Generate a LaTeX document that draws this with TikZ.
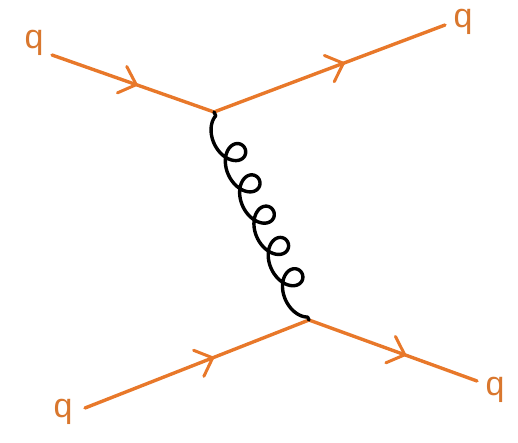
\documentclass[tikz,border=0pt]{standalone}
\usepackage{fontspec}
\setsansfont{Liberation Sans}
\usetikzlibrary{decorations.markings}
\definecolor{quark}{HTML}{E8782A}
\definecolor{qlabel}{HTML}{D9772E}
\tikzset{
  fermion/.style={draw=quark, line width=3.4pt, line cap=round,
    postaction={decorate},
    decoration={markings, mark=at position #1 with {\draw[quark, line width=3pt, line cap=round, line join=round] (-15pt,14pt) -- (0pt,0pt) -- (-15pt,-14pt);}}},
  gluon/.style={draw=black, line width=3.4pt, line cap=round, line join=round},
  qlab/.style={font=\sffamily\fontsize{34}{34}\selectfont, text=qlabel, inner sep=0pt}
}
\begin{document}
\begin{tikzpicture}[x=1pt,y=-1pt]
\useasboundingbox (0,0) rectangle (518,442);
\node[qlab] (q1) at (34,43) {q};
\node[qlab] (q2) at (463,22) {q};
\node[qlab] (q3) at (63,412) {q};
\node[qlab] (q4) at (495,390) {q};
\coordinate (a) at (52,55);
\coordinate (b) at (445,25);
\coordinate (c) at (85,408);
\coordinate (d) at (477,381);
\coordinate (v1) at (214,112);
\coordinate (v2) at (309,320);
\draw[fermion=0.52] (a) -- (v1);
\draw[fermion=0.56] (v1) -- (b);
\draw[fermion=0.57] (c) -- (v2);
\draw[fermion=0.57] (v2) -- (d);
\draw[gluon] (v1) -- plot[domain=-1.5708:32.987, samples=360, smooth, variable=\t]
  ({214+0.4154*(28.8+5.475*\t+16*sin(\t r))+0.9095*(-13*cos(\t r))},
   {112+0.9095*(28.8+5.475*\t+16*sin(\t r))-0.4154*(-13*cos(\t r))}) -- (v2);
\end{tikzpicture}
\end{document}
